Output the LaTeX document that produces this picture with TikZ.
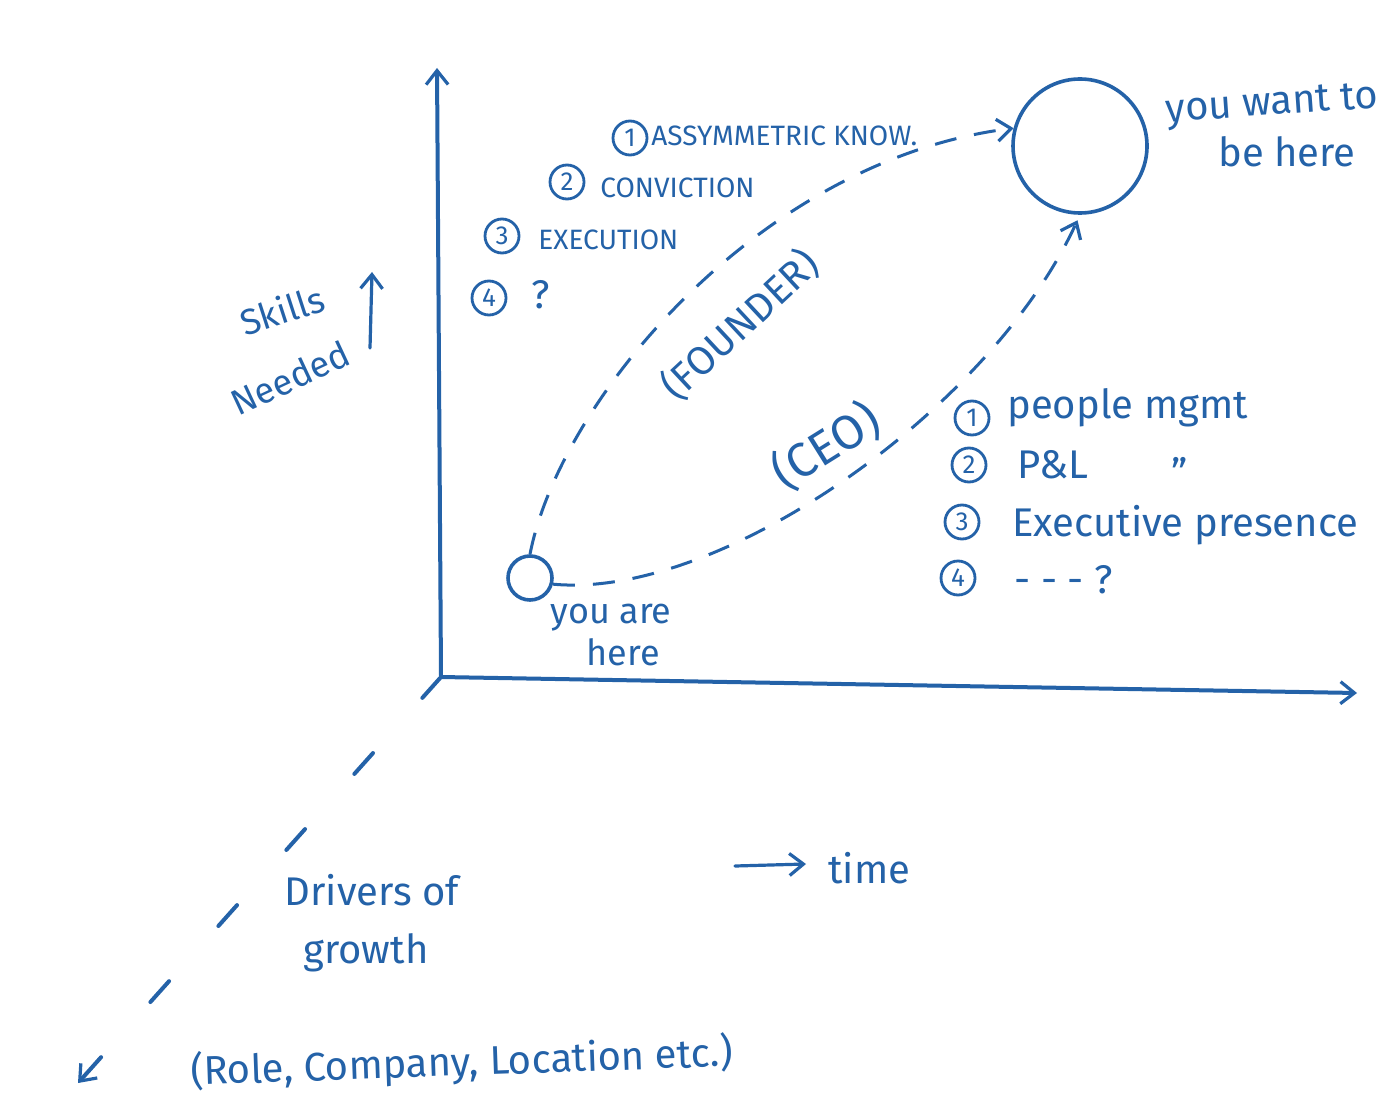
\documentclass[tikz,border=0pt]{standalone}
\usepackage{fontspec}
\setmainfont{Fira Sans}
\usetikzlibrary{arrows.meta}
\definecolor{ink}{RGB}{36,98,168}
\begin{document}
\begin{tikzpicture}[x=0.5pt,y=-0.5pt,
  tip/.style={-{Straight Barb[length=7pt,width=11pt,line width=1.6pt]}},
  axis/.style={draw=ink,line width=2pt,line cap=round,tip},
  dashcurve/.style={draw=ink,line width=1.5pt,dash pattern=on 11pt off 9pt,tip},
  hand/.style={text=ink,inner sep=0pt},
  fA/.style={font=\fontsize{14}{16}\selectfont},
  fB/.style={font=\fontsize{18}{20}\selectfont},
  fC/.style={font=\fontsize{20}{22}\selectfont},
  numc/.style={circle,draw=ink,line width=1.4pt,text=ink,minimum size=17pt,inner sep=0pt,font=\fontsize{13}{13}\selectfont},
  spot/.style={circle,draw=ink,line width=1.8pt,inner sep=0pt}
]
\fill[white] (0,0) rectangle (1400,1117);
\useasboundingbox (0,0) rectangle (1400,1117);

% axes
\coordinate (O) at (441,677);
\coordinate (Ytop) at (437,68);
\coordinate (Xend) at (1357,693);
\coordinate (Zend) at (78,1083);
\draw[axis] (O) -- (Ytop);
\draw[axis] (O) -- (Xend);
\draw[axis,dash pattern=on 14pt off 37pt] (O) -- (Zend);

% positions
\node[spot,minimum size=22pt] (here) at (530,578) {};
\node[spot,minimum size=67pt] (goal) at (1080,146) {};

% paths
\draw[dashcurve] (here.north) .. controls (560,400) and (760,160) .. (goal.165);
\draw[dashcurve,shorten >=3pt] (here.-15) .. controls (720,600) and (990,410) .. (goal.south);

\node[hand,fC,rotate=43] (founder) at (740,325) {(FOUNDER)};
\node[hand,font=\fontsize{24}{26}\selectfont,rotate=32] (ceo) at (826,446) {(CEO)};

% founder skills
\node[numc] (n1) at (630,138) {1};
\node[hand,fA,anchor=west] (t1) at (651,136) {ASSYMMETRIC KNOW.};
\node[numc] (n2) at (567,182) {2};
\node[hand,fA,anchor=west] (t2) at (600,188) {CONVICTION};
\node[numc] (n3) at (502,236) {3};
\node[hand,fA,anchor=west] (t3) at (538,240) {EXECUTION};
\node[numc] (n4) at (489,298) {4};
\node[hand,fC] (t4) at (541,295) {?};

% y label
\node[hand,fB,rotate=18] (skills) at (282,310) {Skills};
\node[hand,fB,rotate=25] (needed) at (290,378) {Needed};
\coordinate (sa1) at (370,348);
\coordinate (sa2) at (372,272);
\draw[axis,line width=1.6pt] (sa1) -- (sa2);

% here labels
\node[hand,fB] (youare) at (611,618) {you are};
\node[hand,fB] (here2) at (623,652) {here};
\node[hand,fC,rotate=4] (want) at (1272,106) {you want to};
\node[hand,fC] (behere) at (1287,152) {be here};

% CEO skills
\node[numc] (r1) at (972,418) {1};
\node[hand,fC,anchor=west] (s1) at (1007,408) {people mgmt};
\node[numc] (r2) at (969,465) {2};
\node[hand,fC,anchor=west] (s2) at (1017,465) {P\&L};
\node[hand,fC] (ditto) at (1180,472) {"};
\node[numc] (r3) at (962,522) {3};
\node[hand,fC,anchor=west] (s3) at (1012,525) {Executive presence};
\node[numc] (r4) at (958,578) {4};
\node[hand,fC,anchor=west] (s4) at (1014,580) {- - - ?};

% time
\coordinate (ta1) at (735,866);
\coordinate (ta2) at (806,864);
\draw[axis,line width=1.6pt] (ta1) -- (ta2);
\node[hand,fC,anchor=west] (time) at (828,868) {time};

% z label
\node[hand,fC] (drivers) at (372,890) {Drivers of};
\node[hand,fC] (growth) at (366,953) {growth};
\node[hand,fC,rotate=2] (role) at (462,1063) {(Role, Company, Location etc.)};
\end{tikzpicture}
\end{document}
